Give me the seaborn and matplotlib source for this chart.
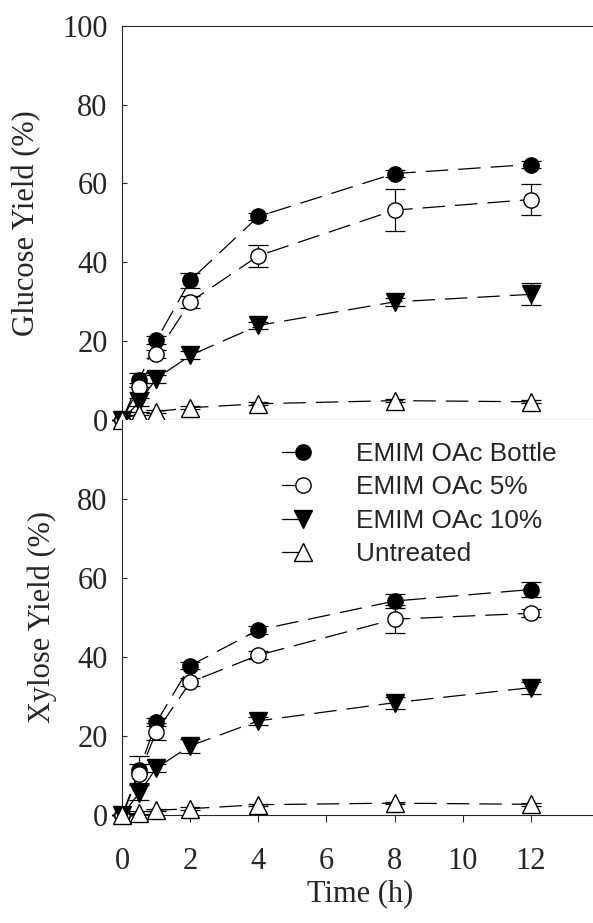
import numpy as np
import pandas as pd
import matplotlib
matplotlib.use("Agg")
import matplotlib.pyplot as plt
import seaborn as sns
from matplotlib.legend_handler import HandlerLine2D

# ---- data ---------------------------------------------------------------
time_h = [0, 0.5, 1, 2, 4, 8, 12]
series_names = ["EMIM OAc Bottle", "EMIM OAc 5%", "EMIM OAc 10%", "Untreated"]

glucose_bottle = [0, 10.0, 20.1, 35.4, 51.6, 62.5, 64.8]
glucose_5pct = [0, 8.2, 16.7, 29.9, 41.6, 53.2, 55.9]
glucose_10pct = [0, 4.4, 10.4, 16.3, 23.9, 29.9, 31.8]
glucose_untreated = [0, 1.5, 2.0, 3.0, 4.0, 4.8, 4.5]

glucose_bottle_err = [0, 1.7, 1.0, 1.9, 1.0, 1.0, 1.0]
glucose_5pct_err = [0, 1.2, 1.0, 1.5, 2.8, 5.4, 3.9]
glucose_10pct_err = [0, 1.0, 1.0, 1.0, 1.0, 1.0, 2.8]
glucose_untreated_err = [0, 0.4, 0.4, 0.4, 0.4, 0.4, 0.4]

xylose_bottle = [0, 11.5, 23.4, 37.8, 46.8, 54.1, 57.0]
xylose_5pct = [0, 10.4, 21.1, 33.6, 40.4, 49.5, 51.0]
xylose_10pct = [0, 5.6, 11.9, 17.5, 23.8, 28.4, 32.2]
xylose_untreated = [0, 0.6, 1.2, 1.6, 2.6, 3.0, 2.7]

xylose_bottle_err = [0, 3.5, 1.0, 1.0, 1.0, 1.8, 2.0]
xylose_5pct_err = [0, 2.5, 2.2, 1.0, 1.0, 3.6, 1.0]
xylose_10pct_err = [0, 1.9, 1.0, 1.7, 1.0, 1.5, 1.5]
xylose_untreated_err = [0, 0.3, 0.3, 0.3, 0.3, 0.3, 0.3]

x_ticks = [0, 2, 4, 6, 8, 10, 12]
glucose_yticks = [0, 20, 40, 60, 80, 100]
xylose_yticks = [0, 20, 40, 60, 80]

# ---- style --------------------------------------------------------------
sns.set_style("ticks")
plt.rcParams["font.family"] = ["Liberation Serif", "DejaVu Serif"]
plt.rcParams["axes.linewidth"] = 0.8

marker_styles = {
    "EMIM OAc Bottle": dict(marker="o", markersize=11, markerfacecolor="black"),
    "EMIM OAc 5%": dict(marker="o", markersize=11, markerfacecolor="white"),
    "EMIM OAc 10%": dict(marker="v", markersize=12.5, markerfacecolor="black"),
    "Untreated": dict(marker="^", markersize=12.5, markerfacecolor="white"),
}

W, H = 593, 923
fig = plt.figure(figsize=(W / 100, H / 100), dpi=100)

left = 122.3 / W
width = 14 * 34.03 / W
ax_top = fig.add_axes([left, (H - 419.5) / H, width, 393.5 / H])
ax_bot = fig.add_axes([left, (H - 815) / H, width, 395.5 / H])


def draw_panel(ax, values, errors):
    handles = []
    for name, y, err in zip(series_names, values, errors):
        df = pd.DataFrame({"Time (h)": time_h, "Yield": y})
        ax.errorbar(time_h, y, yerr=err, fmt="none", ecolor="black",
                    elinewidth=0.9, capsize=7, capthick=0.9, zorder=2,
                    clip_on=False)
        sns.lineplot(data=df, x="Time (h)", y="Yield", ax=ax, color="black",
                     linewidth=0.9, linestyle=(0, (18, 8)),
                     markeredgecolor="black", markeredgewidth=1.0,
                     errorbar=None, legend=False, zorder=3,
                     **marker_styles[name])
        line = ax.lines[-1]
        line.set_clip_on(False)
        line.set_label(name)
        handles.append(line)
    ax.set_xlim(0, 14)
    ax.set_ylim(0, 100)
    ax.set_xticks(x_ticks)
    ax.spines["right"].set_visible(False)
    ax.tick_params(axis="y", direction="in", length=3.3, width=0.8,
                   labelsize=22, pad=10.5)
    ax.tick_params(axis="x", direction="out", length=5, width=0.8,
                   labelsize=22, pad=18)
    return handles


handles = draw_panel(
    ax_top,
    [glucose_bottle, glucose_5pct, glucose_10pct, glucose_untreated],
    [glucose_bottle_err, glucose_5pct_err, glucose_10pct_err, glucose_untreated_err],
)
draw_panel(
    ax_bot,
    [xylose_bottle, xylose_5pct, xylose_10pct, xylose_untreated],
    [xylose_bottle_err, xylose_5pct_err, xylose_10pct_err, xylose_untreated_err],
)

ax_top.set_yticks(glucose_yticks)
ax_top.tick_params(axis="x", labelbottom=False)
ax_top.set_xlabel("")
ax_top.set_ylabel("Glucose Yield (%)", fontsize=22, labelpad=15)

ax_bot.set_yticks(xylose_yticks)
ax_bot.spines["top"].set_visible(False)
ax_bot.set_xlabel("Time (h)", fontsize=22, labelpad=2)
ax_bot.set_ylabel("Xylose Yield (%)", fontsize=22, labelpad=15)


class LeadLineHandler(HandlerLine2D):
    """Legend key with the line running only up to the marker."""

    def create_artists(self, legend, orig_handle, xdescent, ydescent,
                       width, height, fontsize, trans):
        artists = super().create_artists(legend, orig_handle, xdescent,
                                         ydescent, width, height, fontsize,
                                         trans)
        line = artists[0]
        xs = list(line.get_xdata())
        mid = xs[len(xs) // 2]
        line.set_xdata([xs[0], mid, mid])
        line.set_linestyle("-")
        return artists


ax_bot.legend(
    handles=handles, labels=series_names,
    handler_map={type(handles[0]): LeadLineHandler(numpoints=1)},
    loc="upper left", bbox_to_anchor=(282 / W, (H - 442) / H),
    bbox_transform=fig.transFigure, frameon=False,
    prop={"family": "Liberation Sans", "size": 18.9},
    handlelength=1.62, handletextpad=1.19, labelspacing=0.36,
    borderpad=0, borderaxespad=0,
)

fig.savefig("out.png", dpi=100)
